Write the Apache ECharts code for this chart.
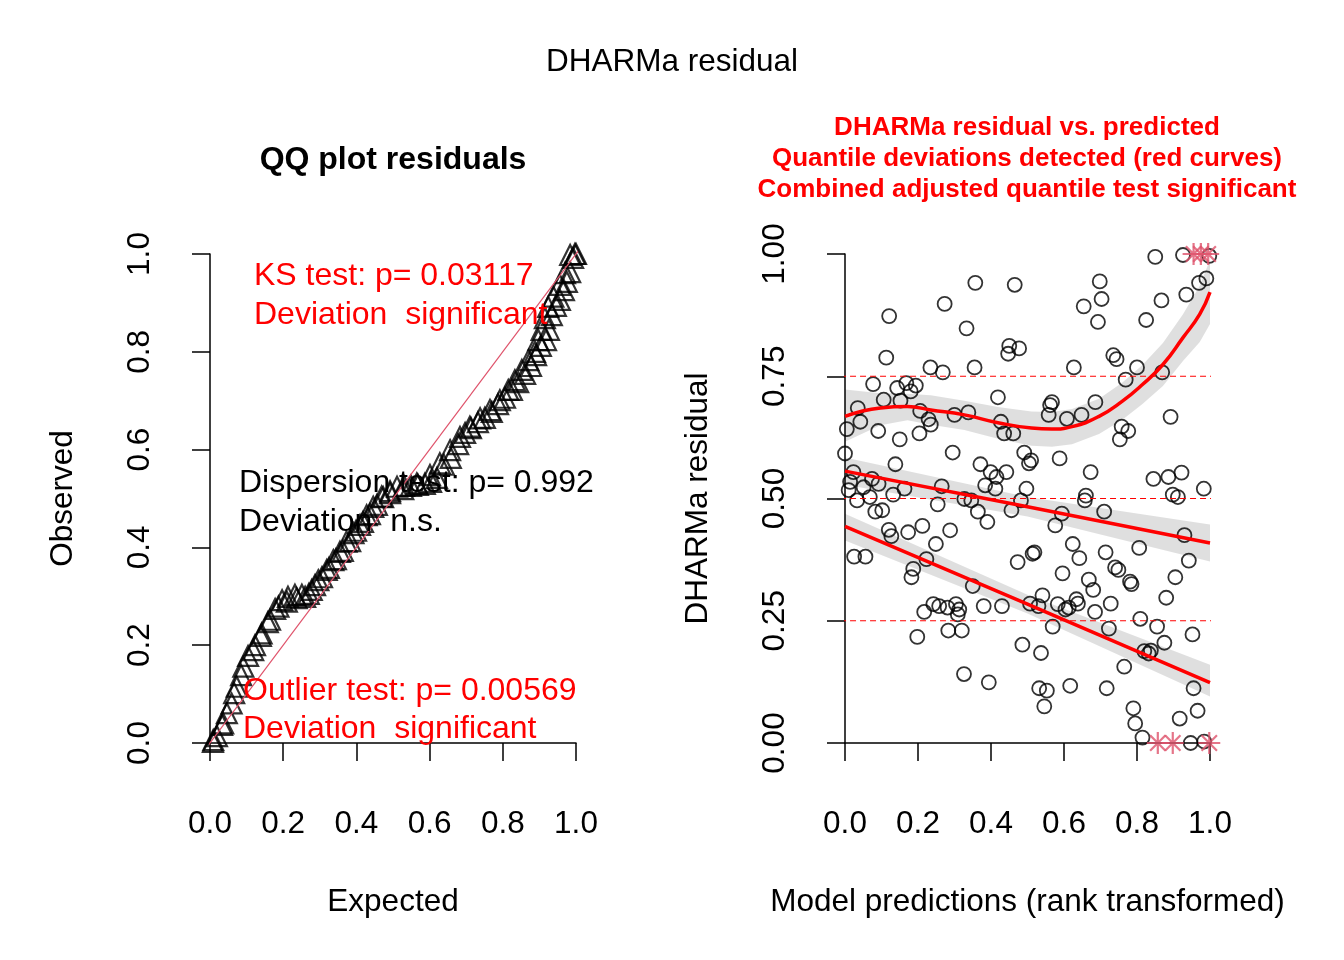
<!DOCTYPE html>
<html>
<head>
<meta charset="utf-8">
<title>DHARMa residual</title>
<script src="https://cdn.jsdelivr.net/npm/echarts@6/dist/echarts.min.js"></script>
<style>
html, body { margin: 0; padding: 0; background: #fff; }
#chart { width: 1344px; height: 960px; }
</style>
</head>
<body>
<div id="chart"></div>
<script>
// QQ plot (expected vs observed quantiles) in two passes
var qqExpected = [0.008,0.019,0.033,0.046,0.066,0.085,0.104,0.123,0.139,0.158,0.178,0.197,0.213,0.232,0.251,0.270,0.287,0.306,0.325,0.344,0.363,0.383,0.399,0.418,0.437,0.456,0.473,0.492,0.511,0.530,0.549,0.568,0.587,0.604,0.620,0.639,0.658,0.678,0.697,0.713,0.732,0.751,0.770,0.787,0.806,0.825,0.842,0.861,0.877,0.891,0.904,0.918,0.926,0.934,0.945,0.956,0.967,0.975,0.984,0.992,1.0,
  0.009,0.036,0.059,0.073,0.091,0.118,0.141,0.164,0.187,0.210,0.237,0.260,0.278,0.296,0.319,0.337,0.355,0.373,0.392,0.410,0.428,0.446,0.469,0.492,0.528,0.565,0.601,0.628,0.656,0.683,0.710,0.738,0.765,0.792,0.815,0.833,0.852,0.870,0.888,0.897,0.906,0.915,0.924,0.938,0.956,0.970,0.984,0.997];
var qqObserved = [0.002,0.014,0.037,0.061,0.102,0.139,0.178,0.200,0.219,0.247,0.274,0.292,0.299,0.303,0.303,0.305,0.323,0.339,0.358,0.376,0.393,0.413,0.434,0.452,0.468,0.487,0.503,0.515,0.524,0.526,0.526,0.528,0.530,0.534,0.542,0.569,0.583,0.611,0.634,0.644,0.656,0.665,0.677,0.693,0.706,0.722,0.738,0.755,0.771,0.793,0.812,0.824,0.845,0.875,0.894,0.906,0.926,0.943,0.963,0.992,1.0,
  0.006,0.040,0.081,0.115,0.156,0.190,0.224,0.252,0.279,0.289,0.296,0.299,0.313,0.333,0.354,0.374,0.391,0.412,0.429,0.446,0.466,0.483,0.504,0.511,0.519,0.531,0.548,0.572,0.599,0.626,0.647,0.664,0.681,0.701,0.722,0.742,0.763,0.783,0.800,0.824,0.845,0.869,0.892,0.913,0.937,0.961,0.998,1.0];
var qqLineRange = [-0.045, 1.043];

// residual vs predicted (rank transformed)
var residPoints = [
  [0.850,0.994],[0.926,0.998],[0.998,0.996],[0.357,0.941],[0.465,0.937],[0.698,0.944],[0.273,0.898],[0.703,0.908],
  [0.654,0.893],[0.867,0.905],[0.935,0.917],[0.970,0.941],[0.990,0.950],[0.121,0.873],[0.333,0.848],[0.693,0.861],
  [0.825,0.865],[0.450,0.812],[0.477,0.807],[0.447,0.796],[0.113,0.788],[0.735,0.793],[0.744,0.785],[0.234,0.768],
  [0.268,0.758],[0.355,0.768],[0.627,0.768],[0.800,0.768],[0.869,0.758],[0.769,0.743],[0.077,0.734],[0.143,0.726],
  [0.168,0.736],[0.194,0.731],[0.180,0.719],[0.106,0.702],[0.152,0.700],[0.419,0.707],[0.567,0.697],[0.562,0.691],
  [0.686,0.697],[0.035,0.685],[0.206,0.679],[0.300,0.671],[0.338,0.676],[0.558,0.671],[0.608,0.663],[0.648,0.671],
  [0.892,0.667],[0.042,0.657],[0.229,0.662],[0.235,0.651],[0.005,0.642],[0.091,0.638],[0.427,0.657],[0.436,0.633],
  [0.461,0.633],[0.758,0.647],[0.776,0.638],[0.753,0.621],[0.150,0.621],[0.204,0.633],[0.000,0.592],[0.295,0.594],
  [0.491,0.594],[0.510,0.578],[0.504,0.572],[0.588,0.582],[0.138,0.570],[0.371,0.570],[0.673,0.554],[0.399,0.554],
  [0.415,0.544],[0.442,0.554],[0.845,0.540],[0.886,0.544],[0.922,0.553],[0.023,0.554],[0.014,0.534],[0.051,0.523],
  [0.074,0.540],[0.092,0.530],[0.010,0.517],[0.033,0.496],[0.068,0.503],[0.132,0.508],[0.163,0.520],[0.265,0.525],
  [0.384,0.527],[0.412,0.520],[0.497,0.520],[0.898,0.508],[0.912,0.503],[0.983,0.520],[0.660,0.506],[0.657,0.496],
  [0.327,0.499],[0.346,0.496],[0.482,0.496],[0.254,0.488],
  [0.083,0.473],[0.102,0.476],[0.364,0.473],[0.390,0.452],[0.456,0.476],[0.594,0.469],[0.576,0.445],[0.710,0.473],
  [0.120,0.436],[0.127,0.423],[0.173,0.431],[0.212,0.444],[0.288,0.435],[0.249,0.407],[0.930,0.425],[0.025,0.381],
  [0.056,0.381],[0.223,0.376],[0.187,0.356],[0.182,0.339],[0.519,0.390],[0.514,0.387],[0.473,0.370],[0.624,0.407],
  [0.642,0.378],[0.596,0.347],[0.714,0.390],[0.740,0.359],[0.749,0.354],[0.806,0.399],[0.942,0.373],[0.668,0.334],
  [0.680,0.313],[0.781,0.330],[0.785,0.325],[0.905,0.339],[0.880,0.297],[0.350,0.321],[0.242,0.284],[0.217,0.268],
  [0.258,0.280],[0.281,0.277],[0.304,0.284],[0.313,0.273],[0.309,0.263],[0.380,0.280],[0.430,0.280],[0.507,0.285],
  [0.530,0.280],[0.541,0.302],[0.583,0.284],[0.604,0.273],[0.613,0.277],[0.634,0.294],[0.638,0.285],[0.685,0.268],
  [0.728,0.285],[0.198,0.217],[0.283,0.230],[0.320,0.230],[0.569,0.238],[0.723,0.234],[0.809,0.254],[0.855,0.238],
  [0.875,0.205],[0.952,0.222],[0.486,0.201],[0.537,0.184],[0.820,0.188],[0.832,0.183],[0.838,0.189],[0.765,0.156],
  [0.326,0.141],[0.394,0.124],[0.532,0.112],[0.553,0.107],[0.546,0.075],[0.617,0.117],[0.717,0.112],[0.955,0.112],
  [0.790,0.071],[0.795,0.040],[0.815,0.011],[0.917,0.050],[0.966,0.066],[0.947,0.000],[0.984,0.003]
];

// outliers (stars)
var outlierPoints = [[0.955,1],[0.975,1],[0.995,1],[0.857,0],[0.898,0],[0.998,0]];

// quantile regression curves with their bands
var q75X  = [0, 0.097, 0.171, 0.235, 0.327, 0.419, 0.511, 0.567, 0.622, 0.696, 0.760, 0.815, 0.871, 0.926, 0.972, 1.0];
var q75Y  = [0.668, 0.685, 0.688, 0.681, 0.671, 0.655, 0.644, 0.642, 0.647, 0.668, 0.699, 0.733, 0.774, 0.829, 0.877, 0.922];
var q75Lo = [0.616, 0.650, 0.660, 0.651, 0.640, 0.622, 0.608, 0.606, 0.611, 0.632, 0.661, 0.693, 0.730, 0.781, 0.820, 0.857];
var q75Hi = [0.723, 0.715, 0.714, 0.711, 0.700, 0.687, 0.678, 0.677, 0.683, 0.704, 0.737, 0.773, 0.818, 0.877, 0.935, 0.988];

var q50X  = [0, 0.5, 1];
var q50Y  = [0.556, 0.483, 0.409];
var q50Lo = [0.528, 0.463, 0.371];
var q50Hi = [0.584, 0.503, 0.447];

var q25X  = [0, 0.5, 1];
var q25Y  = [0.443, 0.284, 0.1235];
var q25Lo = [0.414, 0.265, 0.095];
var q25Hi = [0.469, 0.303, 0.160];

var quantileLevels = [0.25, 0.5, 0.75];
var dashRange = [-0.041, 1.041];

var FONT = 'Liberation Sans';
var chart = echarts.init(document.getElementById('chart'));

function zip(xs, ys) {
  return xs.map(function (x, i) { return [x, ys[i]]; });
}

function axisX(idx, name) {
  return {
    gridIndex: idx, type: 'value', min: 0, max: 1, interval: 0.2, offset: 21,
    axisLine: { lineStyle: { color: '#000', width: 1.5 } },
    axisTick: { length: 18, lineStyle: { color: '#000', width: 1.5 } },
    axisLabel: { margin: 44, fontSize: 31.5, fontFamily: FONT, color: '#000',
      formatter: function (v) { return v.toFixed(1); } },
    splitLine: { show: false },
    name: name, nameLocation: 'middle', nameGap: 122,
    nameTextStyle: { fontSize: 31.5, fontFamily: FONT, color: '#000' }
  };
}

function axisY(idx, name, interval, digits) {
  return {
    gridIndex: idx, type: 'value', min: 0, max: 1, interval: interval, offset: 15,
    axisLine: { lineStyle: { color: '#000', width: 1.5 } },
    axisTick: { length: 18, lineStyle: { color: '#000', width: 1.5 } },
    axisLabel: { margin: 39, rotate: 90, fontSize: 31.5, fontFamily: FONT, color: '#000',
      formatter: function (v) { return v.toFixed(digits); } },
    splitLine: { show: false },
    name: name, nameLocation: 'middle', nameGap: 116, nameRotate: 90,
    nameTextStyle: { fontSize: 31.5, fontFamily: FONT, color: '#000' }
  };
}

// grey confidence band drawn as a polygon through the axis scales
function band(xs, lo, hi) {
  return {
    type: 'custom', xAxisIndex: 1, yAxisIndex: 1, data: [[xs[0], lo[0]]], silent: true, z: 3,
    renderItem: function (params, api) {
      var pts = [];
      for (var i = 0; i < xs.length; i++) pts.push(api.coord([xs[i], hi[i]]));
      for (var j = xs.length - 1; j >= 0; j--) pts.push(api.coord([xs[j], lo[j]]));
      return { type: 'polygon', shape: { points: pts }, style: { fill: 'rgba(0,0,0,0.125)' } };
    }
  };
}

function redLine(xs, ys, smooth) {
  return { type: 'line', xAxisIndex: 1, yAxisIndex: 1, data: zip(xs, ys), smooth: smooth,
    symbol: 'none', lineStyle: { color: '#FF0000', width: 3.5 }, clip: false, z: 4 };
}

var series = [];

// QQ reference line
series.push({ type: 'line', xAxisIndex: 0, yAxisIndex: 0,
  data: [[qqLineRange[0], qqLineRange[0]], [qqLineRange[1], qqLineRange[1]]],
  symbol: 'none', lineStyle: { color: '#DF536B', width: 1.2 }, clip: false, z: 3 });

// QQ points
series.push({ type: 'scatter', xAxisIndex: 0, yAxisIndex: 0, data: zip(qqExpected, qqObserved),
  symbol: 'triangle', symbolSize: 20, clip: false, z: 2,
  itemStyle: { color: 'rgba(0,0,0,0)', borderColor: '#000', borderWidth: 2.2 } });

// residual scatter
series.push({ type: 'scatter', xAxisIndex: 1, yAxisIndex: 1, data: residPoints,
  symbol: 'circle', symbolSize: 14, clip: false, z: 2,
  itemStyle: { color: 'rgba(0,0,0,0)', borderColor: '#000', borderWidth: 1.8 } });

// dashed quantile reference lines
quantileLevels.forEach(function (q) {
  series.push({ type: 'line', xAxisIndex: 1, yAxisIndex: 1,
    data: [[dashRange[0], q], [dashRange[1], q]], symbol: 'none', clip: false, z: 3,
    lineStyle: { color: '#FF0000', width: 1, type: [6, 4] } });
});

series.push(band(q75X, q75Lo, q75Hi));
series.push(band(q50X, q50Lo, q50Hi));
series.push(band(q25X, q25Lo, q25Hi));
series.push(redLine(q75X, q75Y, true));
series.push(redLine(q50X, q50Y, false));
series.push(redLine(q25X, q25Y, false));

// outlier stars
series.push({ type: 'scatter', xAxisIndex: 1, yAxisIndex: 1, data: outlierPoints,
  symbol: 'path://M0,-10L0,10M-10,0L10,0M-7,-7L7,7M-7,7L7,-7', symbolSize: 22, clip: false, z: 6,
  itemStyle: { color: 'rgba(0,0,0,0)', borderColor: '#DF536B', borderWidth: 2.2 } });

function txt(text, x, y, font, fill, align) {
  return { type: 'text', x: x, y: y, silent: true, z: 10,
    style: { text: text, font: font, fill: fill, align: align || 'left', verticalAlign: 'middle' } };
}

var reg = '32px "' + FONT + '"';
var bold26 = 'bold 26px "' + FONT + '"';
var graphics = [
  txt('DHARMa residual', 672, 62, '31.5px "' + FONT + '"', '#000', 'center'),
  txt('QQ plot residuals', 393, 160, 'bold 32px "' + FONT + '"', '#000', 'center'),
  txt('DHARMa residual vs. predicted', 1027, 128, bold26, '#FF0000', 'center'),
  txt('Quantile deviations detected (red curves)', 1027, 159, bold26, '#FF0000', 'center'),
  txt('Combined adjusted quantile test significant', 1027, 190, bold26, '#FF0000', 'center'),
  txt('KS test: p= 0.03117', 254, 276, reg, '#FF0000'),
  txt('Deviation  significant', 254, 315, reg, '#FF0000'),
  txt('Dispersion test: p= 0.992', 239, 483, reg, '#000'),
  txt('Deviation  n.s.', 239, 522, reg, '#000'),
  txt('Outlier test: p= 0.00569', 243, 691, reg, '#FF0000'),
  txt('Deviation  significant', 243, 729, reg, '#FF0000')
];

chart.setOption({
  backgroundColor: '#fff',
  animation: false,
  grid: [
    { left: 210, top: 254, width: 366, height: 489 },
    { left: 845, top: 254, width: 365, height: 489 }
  ],
  xAxis: [axisX(0, 'Expected'), axisX(1, 'Model predictions (rank transformed)')],
  yAxis: [axisY(0, 'Observed', 0.2, 1), axisY(1, 'DHARMa residual', 0.25, 2)],
  series: series,
  graphic: graphics
});
</script>
</body>
</html>
